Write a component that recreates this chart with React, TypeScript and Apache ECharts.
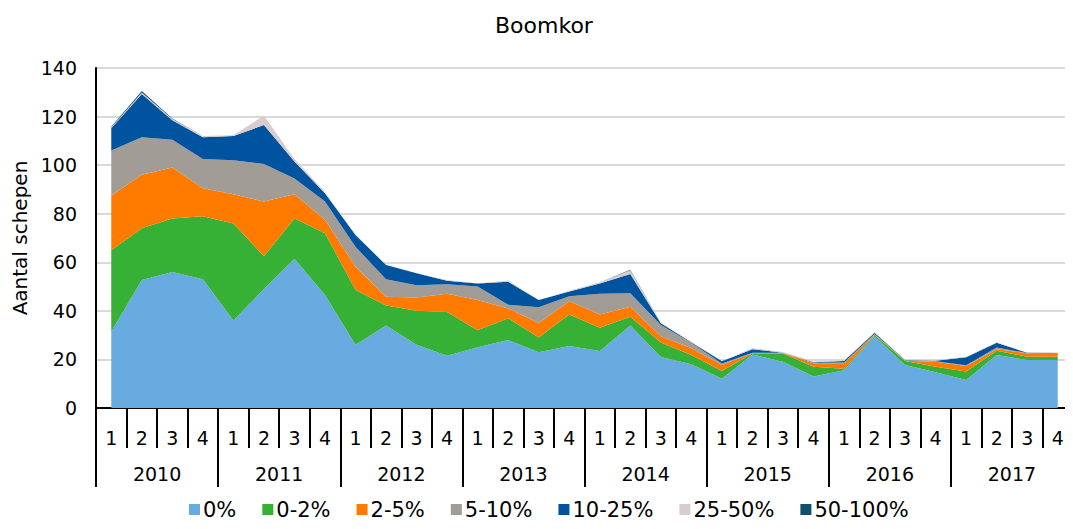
import React, { useEffect, useRef } from "react";
import * as echarts from "echarts";

const years = ["2010", "2011", "2012", "2013", "2014", "2015", "2016", "2017"];
const quarters = years.flatMap(() => ["1", "2", "3", "4"]);
const yTicks = [0, 20, 40, 60, 80, 100, 120, 140];

const s0 = [31.5, 52.7, 56, 53, 36, 49, 61.5, 46.5, 26, 34, 26, 21.5, 25, 28, 23, 25.5, 23.5, 34, 21, 18, 12, 22, 19, 13, 15.5, 29.5, 17.7, 14.7, 11.5, 21.8, 19.8, 19.8];
const s02 = [33.5, 21.3, 22, 26, 40, 13.5, 16.5, 25.5, 22.6, 8.2, 14, 18, 7, 9, 6, 13, 9.5, 3.6, 6, 3.8, 3.2, 0.4, 3.4, 4, 0.7, 0.6, 1.7, 2.3, 3.5, 1.8, 1.3, 1.3];
const s25 = [22.5, 22, 21, 11.5, 12, 22.5, 10, 5.5, 9.6, 3.6, 5.5, 7.5, 12.5, 4, 6, 5.5, 5.5, 4.1, 2.5, 2.8, 2.5, 0.2, 0.2, 1.4, 2.2, 0.2, 0.1, 2, 2.3, 0.6, 1.4, 1.6];
const s510 = [18.5, 15.5, 11.5, 12, 14, 15.5, 6.5, 7.5, 8.2, 7.2, 5, 4, 5.5, 1.5, 6.5, 2, 8.5, 5.5, 4.7, 2.3, 0.6, 0.2, 0.1, 0.2, 0.3, 0.2, 0.2, 0.3, 0.3, 0.7, 0.1, 0.1];
const s1025 = [9.2, 17.8, 8, 9, 10, 16, 7, 3.4, 4.8, 5.9, 5, 1.4, 1.3, 9.5, 3, 2, 4.3, 8, 0.7, 0.2, 1, 1.4, 0.1, 0.2, 0.7, 0.5, 0.1, 0.2, 3.3, 2, 0.1, 0];
const s2550 = [0.3, 0.6, 0.5, 0.5, 0.3, 3.9, 1, 0.5, 0.3, 0, 0, 0.3, 0, 0.5, 0, 0.3, 0.5, 1.5, 0.3, 0.2, 0, 0.5, 0.3, 0.3, 0.2, 0.2, 0.2, 0.3, 0.2, 0.2, 0, 0];
const s50100 = [0.3, 0.6, 0.2, 0, 0, 0, 0, 0, 0, 0, 0, 0, 0, 0, 0, 0, 0, 0.2, 0, 0, 0, 0, 0, 0, 0, 0, 0, 0, 0, 0, 0, 0];

const seriesNames = ["0%", "0-2%", "2-5%", "5-10%", "10-25%", "25-50%", "50-100%"];
const seriesData = [s0, s02, s25, s510, s1025, s2550, s50100];
const colors = ["#68ABE0", "#36B035", "#FF7B00", "#A29C97", "#00539E", "#D9CCCC", "#0E4F6B"];

export default function App() {
  const ref = useRef<HTMLDivElement>(null);
  useEffect(() => {
    if (!ref.current) return;
    const chart = echarts.init(ref.current, null, { renderer: "svg" });
    const font = "DejaVu Sans";
    chart.setOption({
      animation: false,
      textStyle: { fontFamily: font, color: "#000" },
      title: {
        text: "Boomkor",
        left: 490,
        top: 9,
        textStyle: { fontFamily: font, fontSize: 22, fontWeight: "normal", color: "#000" },
      },
      legend: {
        top: 499,
        left: 189,
        padding: 0,
        icon: "rect",
        itemWidth: 11,
        itemHeight: 11,
        itemGap: 26,
        data: seriesNames,
        textStyle: { fontFamily: font, fontSize: 21, color: "#000", padding: [0, 0, 0, -2] },
      },
      grid: { left: 96, top: 68, width: 987, height: 340 },
      xAxis: [
        {
          type: "category",
          data: quarters,
          boundaryGap: true,
          axisLine: { show: true, lineStyle: { color: "#000", width: 2 } },
          axisTick: { show: true, length: 40, interval: 0, lineStyle: { color: "#000", width: 2 } },
          axisLabel: { interval: 0, margin: 20, fontSize: 19, color: "#000", fontFamily: font },
          splitLine: { show: false },
        },
        {
          type: "category",
          data: years,
          position: "bottom",
          boundaryGap: true,
          axisLine: { show: false },
          axisTick: { show: true, length: 79, interval: 0, lineStyle: { color: "#000", width: 2 } },
          axisLabel: { interval: 0, margin: 56, fontSize: 19, color: "#000", fontFamily: font },
          splitLine: { show: false },
        },
      ],
      yAxis: {
        type: "value",
        min: yTicks[0],
        max: yTicks[yTicks.length - 1],
        interval: 20,
        name: "Aantal schepen",
        nameLocation: "middle",
        nameGap: 62,
        nameTextStyle: { fontFamily: font, fontSize: 20, color: "#000" },
        axisLine: { show: true, lineStyle: { color: "#000", width: 2 } },
        axisTick: { show: false },
        axisLabel: { margin: 19, fontSize: 19, color: "#000", fontFamily: font },
        splitLine: { show: true, lineStyle: { color: "#D9D9D9", width: 2 } },
      },
      series: seriesNames.map((name, i) => ({
        name,
        type: "line",
        stack: "total",
        data: seriesData[i],
        showSymbol: false,
        symbol: "none",
        lineStyle: { width: 0 },
        areaStyle: { color: colors[i], opacity: 1 },
        itemStyle: { color: colors[i] },
        z: 2,
      })),
    });
    return () => chart.dispose();
  }, []);
  return <div ref={ref} style={{ width: 1073, height: 529, margin: -8 }} />;
}
